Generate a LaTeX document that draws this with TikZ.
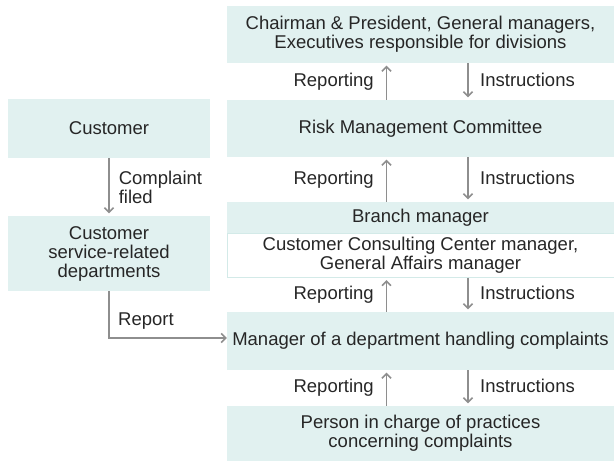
\documentclass[tikz,border=0pt]{standalone}
\usepackage{fontspec}
\setmainfont{Liberation Sans}
\usetikzlibrary{arrows.meta,positioning}

\definecolor{boxfill}{HTML}{E1F1F0}
\definecolor{boxline}{HTML}{D3EAE8}
\definecolor{linegray}{HTML}{8E8E8E}
\definecolor{textdark}{HTML}{262626}

\tikzset{
  unit/.style={fill=boxfill, minimum width=387pt, minimum height=57pt, inner sep=0pt, align=center},
  side/.style={unit, minimum width=202pt},
  flow/.style={draw=linegray, line width=1.6pt, shorten >=2.5pt, -{Straight Barb[length=4.5pt,width=9pt]}},
  tag/.style={inner sep=0pt, align=left},
  levtag/.style={inner sep=0pt, text height=13pt, text depth=4pt}
}

\begin{document}
\begin{tikzpicture}[x=1pt,y=-1pt,font=\fontsize{18.5pt}{19pt}\selectfont,text=textdark]
  \useasboundingbox (0,0) rectangle (614,461);
  % right column, top to bottom
  \node[unit] (chair) at (420.5,34.5) {Chairman \& President, General managers,\\Executives responsible for divisions};
  \node[unit] (risk) at (420.5,128.5) {Risk Management Committee};
  \node[unit, minimum height=31pt] (branch) at (420.5,217.5) {Branch manager};
  \node[unit, fill=white, draw=boxline, line width=1pt, minimum height=44pt] (consult) at (420.5,255)
    {Customer Consulting Center manager,\\General Affairs manager};
  \node[unit, minimum height=58pt] (manager) at (420.5,341) {Manager of a department handling complaints};
  \node[unit, minimum height=55pt] (person) at (420.5,433.5) {Person in charge of practices\\concerning complaints};
  % left column
  \node[side, minimum height=59pt] (customer) at (109,128.5) {Customer};
  \node[side, minimum height=75pt] (service) at (109,253.5) {Customer\\service-related\\departments};

  % reporting / instructions between the levels
  \coordinate (upx) at (386.5,0);
  \coordinate (dnx) at (468,0);
  \foreach \lo/\hi in {risk/chair, branch/risk, manager/consult, person/manager} {
    \path (\lo.north -| upx) -- (\hi.south -| upx) node[midway, left=12.5pt, levtag] {Reporting};
    \path (\hi.south -| dnx) -- (\lo.north -| dnx) node[midway, right=12pt, levtag] {Instructions};
    \draw[flow] (\lo.north -| upx) -- (\hi.south -| upx);
    \draw[flow] (\hi.south -| dnx) -- (\lo.north -| dnx);
  }

  % complaint path
  \draw[flow] (customer) -- (service) node[midway, right=9pt, tag] {Complaint\\filed};
  \coordinate (bend) at (109,338);
  \draw[flow, shorten >=0pt] (service.south) -- (bend) -- (manager.west |- bend);
  \node[tag, anchor=base west] (report) at (118,325) {Report};
\end{tikzpicture}
\end{document}
